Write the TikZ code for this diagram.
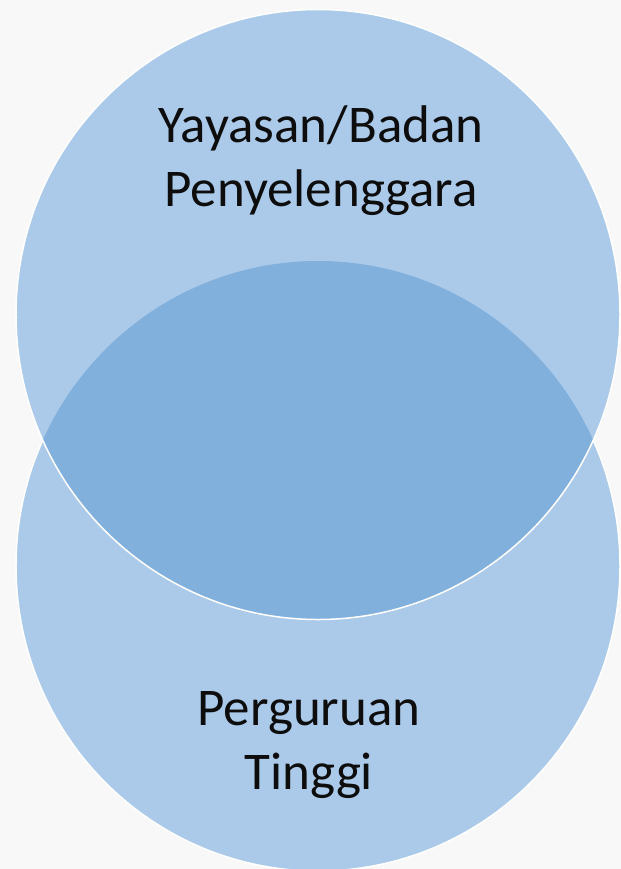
\documentclass[tikz,border=0pt]{standalone}
\usepackage{fontspec}
\setmainfont{Carlito}
\usepackage{xcolor}
\usetikzlibrary{shapes.geometric}

\definecolor{vennlight}{RGB}{171,202,233}
\definecolor{venndark}{RGB}{129,176,221}
\definecolor{paper}{RGB}{248,248,249}

\begin{document}
\begin{tikzpicture}[x=1bp,y=-1bp]
        % Define styles
        \tikzset{
            venn/.style={ellipse, minimum width=604bp, minimum height=610bp, inner sep=0pt, outer sep=0pt},
            vennfill/.style={venn, fill=vennlight},
            vennline/.style={venn, draw=white, line width=1.5bp},
            venntext/.style={align=center, font={\fontsize{53bp}{64bp}\selectfont}, text=black!95}
        }

        % Background
        \useasboundingbox (0,0) rectangle (621,869);
        \fill[paper] (0,0) rectangle (621,869);

        % Circles
        \node[vennfill, draw=white, line width=1.5bp] (circle_node_bottom) at (318,566) {};
        \node[vennfill] (circle_node_top) at (318,314.5) {};
        \begin{scope}
            \clip (circle_node_bottom.center) ellipse [x radius=302bp, y radius=305bp];
            \fill[venndark] (circle_node_top.center) ellipse [x radius=302bp, y radius=305bp];
        \end{scope}
        \node[vennline] (circle_node_top_border) at (circle_node_top.center) {};

        % Labels
        \node[venntext] (text_node_top) at (321,161) {Yayasan/Badan\\Penyelenggara};
        \node[venntext] (text_node_bottom) at (309,745) {Perguruan\\Tinggi};
    \end{tikzpicture}
\end{document}
